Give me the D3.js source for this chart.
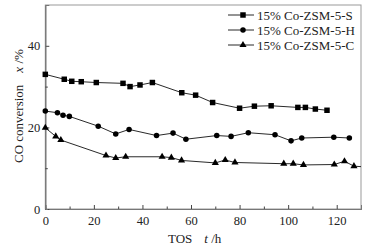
<!DOCTYPE html>
<html><head><meta charset="utf-8">
<script src="https://cdn.jsdelivr.net/npm/d3@7"></script>
<style>body{margin:0;background:#fff}svg{display:block}text{font-family:"Liberation Serif","Times New Roman",serif;fill:#222}</style>
</head><body><div id="c"></div>
<script>
const seriesNames = ["15% Co-ZSM-5-S", "15% Co-ZSM-5-H", "15% Co-ZSM-5-C"];
const sTime = [0, 7.8, 10.9, 14.8, 21.0, 32.0, 34.9, 39.0, 44.1, 56.2, 61.9, 68.9, 80.0, 86.1, 93.0, 104.0, 107.1, 111.2, 116.0];
const sConv = [33.0, 31.8, 31.3, 31.2, 31.0, 30.8, 30.0, 30.4, 31.0, 28.5, 27.9, 26.1, 24.7, 25.2, 25.3, 24.9, 24.9, 24.5, 24.2];
const hTime = [0, 5.0, 7.3, 9.9, 21.8, 29.0, 34.5, 45.8, 52.6, 57.9, 70.6, 76.5, 83.6, 94.6, 101.2, 105.6, 118.8, 125.2];
const hConv = [24.0, 23.6, 23.0, 22.7, 20.3, 18.4, 19.5, 18.0, 18.6, 17.1, 18.0, 17.8, 18.7, 18.2, 16.7, 17.4, 17.6, 17.4];
// last C point lies just beyond the plotted range (line runs off the right edge)
const cTime = [0, 4.3, 6.4, 25.0, 29.0, 33.1, 48.1, 51.9, 56.1, 70.0, 74.1, 78.1, 98.2, 102.1, 106.3, 119.0, 123.2, 127.1, 132.0];
const cConv = [19.9, 17.8, 16.9, 13.1, 12.5, 12.8, 12.8, 12.6, 11.9, 11.3, 12.0, 11.4, 11.1, 11.1, 10.8, 10.9, 11.7, 10.5, 10.3];
const xTicks = [0, 20, 40, 60, 80, 100, 120];
const xMinor = [10, 30, 50, 70, 90, 110];
const yTicks = [0, 20, 40];
const yMinor = [10, 30];

const W = 373, H = 249;
const L = 45.3, R = 361, T = 5, B = 209;
const svg = d3.select("#c").append("svg").attr("width", W).attr("height", H);
const x = d3.scaleLinear().domain([0, 130]).range([L, R]);
const y = d3.scaleLinear().domain([0, 50]).range([B, T]);

svg.append("clipPath").attr("id", "clip").append("rect")
  .attr("x", L).attr("y", T).attr("width", R - L).attr("height", B - T);

// frame
svg.append("rect").attr("x", L).attr("y", T).attr("width", R - L).attr("height", B - T)
  .attr("fill", "none").attr("stroke", "#999").attr("stroke-width", 1);

// axes
const gx = svg.append("g").attr("transform", `translate(0,${B})`)
  .call(d3.axisBottom(x).tickValues(xTicks).tickSize(-4).tickPadding(7).tickFormat(d3.format("d")));
const gxm = svg.append("g").attr("transform", `translate(0,${B})`)
  .call(d3.axisBottom(x).tickValues(xMinor).tickSize(-2.5).tickFormat(""));
const gy = svg.append("g").attr("transform", `translate(${L},0)`)
  .call(d3.axisLeft(y).tickValues(yTicks).tickSize(-4).tickPadding(7).tickFormat(d3.format("d")));
const gym = svg.append("g").attr("transform", `translate(${L},0)`)
  .call(d3.axisLeft(y).tickValues(yMinor).tickSize(-2.5).tickFormat(""));
[gx, gxm, gy, gym].forEach(g => {
  g.attr("font-family", null);
  g.select(".domain").attr("stroke", "#777");
  g.selectAll(".tick line").attr("stroke", "#444");
  g.selectAll("text").style("font-size", "12.5px").attr("fill", "#333")
    .style("font-family", '"Liberation Serif",serif');
});
gy.selectAll("text").attr("dx", "2");

// axis titles
const xt = svg.append("text").attr("x", 168).attr("y", 243).style("font-size", "13px").attr("fill", "#333");
xt.append("tspan").text("TOS");
xt.append("tspan").attr("dx", 12).style("font-style", "italic").text("t");
xt.append("tspan").text(" /h");
const yt = svg.append("text").attr("transform", "translate(23,163) rotate(-90)").style("font-size", "13px").attr("fill", "#333");
yt.append("tspan").text("CO conversion");
yt.append("tspan").attr("dx", 12).style("font-style", "italic").text("x");
yt.append("tspan").text(" /%");

const line = d3.line().x(d => x(d[0])).y(d => y(d[1]));
const data = [
  {name: seriesNames[0], pts: sTime.map((t, i) => [t, sConv[i]]), sym: d3.symbolSquare, size: 30},
  {name: seriesNames[1], pts: hTime.map((t, i) => [t, hConv[i]]), sym: d3.symbolCircle, size: 24},
  {name: seriesNames[2], pts: cTime.map((t, i) => [t, cConv[i]]), sym: d3.symbolTriangle, size: 22}
];
data.forEach(s => {
  svg.append("path").datum(s.pts).attr("d", line).attr("fill", "none")
    .attr("clip-path", "url(#clip)")
    .attr("stroke", "#111").attr("stroke-width", 0.9);
  svg.selectAll(null).data(s.pts.filter(d => d[0] <= 130)).enter().append("path")
    .attr("transform", d => `translate(${x(d[0])},${y(d[1])})`)
    .attr("d", d3.symbol().type(s.sym).size(s.size)).attr("fill", "#000");
});

// legend
const lg = svg.append("g");
data.forEach((s, i) => {
  const yy = 15 + i * 15;
  lg.append("line").attr("x1", 228).attr("x2", 254).attr("y1", yy).attr("y2", yy)
    .attr("stroke", "#111").attr("stroke-width", 0.9);
  lg.append("path").attr("transform", `translate(243,${yy})`)
    .attr("d", d3.symbol().type(s.sym).size(s.size)).attr("fill", "#000");
  lg.append("text").attr("x", 257).attr("y", yy + 4.5).style("font-size", "13px").attr("fill", "#222").text(s.name);
});
</script></body></html>
